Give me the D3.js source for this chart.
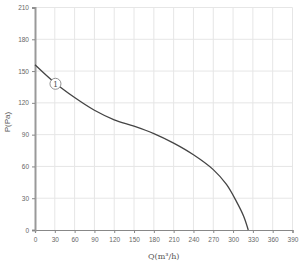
<!DOCTYPE html>
<html>
<head>
	<meta charset="utf-8">
	<script src="https://cdn.jsdelivr.net/npm/d3@7/dist/d3.min.js"></script>
</head>
<style type="text/css">
	body { margin: 0; background: #fff; }
	.tick text { font-family: "Liberation Sans", Arial, sans-serif; font-size: 6.5px; fill: #666; }
</style>
<body>
</body>
</html>
<script type="text/javascript">
	var width = 300;
	var height = 263;

	// fan curve
	var flow = [0, 30, 60, 90, 120, 150, 180, 210, 240, 270, 290, 305, 316, 323];
	var pressure = [156, 139, 125, 113, 104, 98, 91, 82, 71, 57, 43, 27, 13, 0];
	var xTicks = [0, 30, 60, 90, 120, 150, 180, 210, 240, 270, 300, 330, 360, 390];
	var yTicks = [0, 30, 60, 90, 120, 150, 180, 210];

	var plotL = 35, plotR = 292.5, plotT = 7.5, plotB = 230;

	var x = d3.scaleLinear().domain([0, 390]).range([plotL, plotR]);
	var y = d3.scaleLinear().domain([0, 210]).range([plotB, plotT]);

	var svg = d3.select("body").append("svg").attr("width", width).attr("height", height);

	// grid
	svg.append("g").selectAll("line").data(xTicks.slice(1)).enter().append("line")
		.attr("x1", function(d){ return x(d); }).attr("x2", function(d){ return x(d); })
		.attr("y1", plotT).attr("y2", plotB)
		.attr("stroke", "#e6e6e6").attr("stroke-width", 1);
	svg.append("g").selectAll("line").data(yTicks.slice(1)).enter().append("line")
		.attr("x1", plotL).attr("x2", plotR)
		.attr("y1", function(d){ return y(d); }).attr("y2", function(d){ return y(d); })
		.attr("stroke", "#e6e6e6").attr("stroke-width", 1);

	var xAxis = svg.append("g").attr("transform", "translate(0," + plotB + ")")
		.call(d3.axisBottom(x).tickValues(xTicks).tickSize(3).tickPadding(4));
	var yAxis = svg.append("g").attr("transform", "translate(" + plotL + ",0)")
		.call(d3.axisLeft(y).tickValues(yTicks).tickSize(3).tickPadding(3));
	xAxis.select(".domain").attr("stroke", "#888").attr("stroke-width", 1.2);
	yAxis.select(".domain").attr("stroke", "#999").attr("stroke-width", 2);
	svg.selectAll(".tick line").attr("stroke", "#888");

	// curve
	var pts = flow.map(function(q, i){ return [q, pressure[i]]; });
	var line = d3.line()
		.x(function(d){ return x(d[0]); })
		.y(function(d){ return y(d[1]); })
		.curve(d3.curveCatmullRom);
	svg.append("path").datum(pts).attr("d", line)
		.attr("fill", "none").attr("stroke", "#444").attr("stroke-width", 1.3);

	// curve label
	var lab = svg.append("g").attr("transform", "translate(" + x(31) + "," + y(138) + ")");
	lab.append("circle").attr("r", 5.5).attr("fill", "#fff").attr("stroke", "#777").attr("stroke-width", 0.8);
	lab.append("text").attr("text-anchor", "middle").attr("dy", "0.35em")
		.style("font-family", "'DejaVu Serif', serif").style("font-size", "8px").attr("fill", "#555").text("1");

	// axis titles
	svg.append("text").attr("x", (plotL + plotR) / 2).attr("y", 259)
		.attr("text-anchor", "middle")
		.style("font-family", "'DejaVu Serif', 'Liberation Serif', serif").style("font-size", "8px").attr("fill", "#555")
		.text("Q(m³/h)");
	svg.append("text").attr("transform", "translate(10," + 122 + ") rotate(-90)")
		.attr("text-anchor", "middle")
		.style("font-family", "'Liberation Sans', sans-serif").style("font-size", "8px").attr("fill", "#555")
		.text("P(Pa)");
</script>
